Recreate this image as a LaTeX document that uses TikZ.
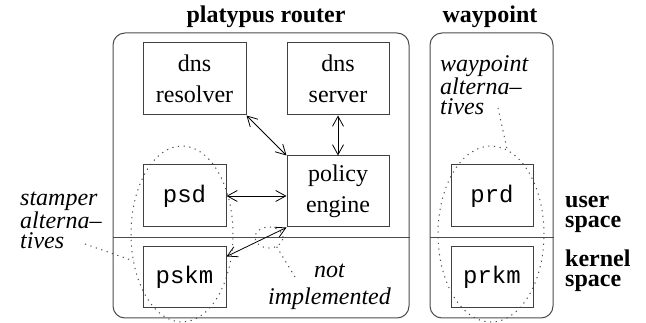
\documentclass[tikz,border=0pt]{standalone}
\usepackage{fontspec}
\setmainfont{Liberation Serif}
\setmonofont{Liberation Mono}
\usetikzlibrary{shapes.geometric,arrows.meta}

\begin{document}
\begin{tikzpicture}[x=1pt, y=-1pt, font=\fontsize{24}{31}\selectfont,
  >={Straight Barb[length=10pt,width=11pt]},
  box/.style={draw=black!75, line width=1pt, inner sep=0pt, align=center},
  tbox/.style={box, font=\fontsize{24}{31}\selectfont\ttfamily},
  group/.style={draw=black!70, line width=1pt, rounded corners=12pt, inner sep=0pt},
  title/.style={font=\fontsize{24}{31}\selectfont\bfseries, anchor=base},
  alt/.style={ellipse, draw=black!70, line width=1pt, dash pattern=on 1.2pt off 4.5pt, inner sep=0pt, outer sep=0pt},
  note/.style={font=\fontsize{24}{20}\selectfont\itshape, align=left, inner sep=0pt},
  side/.style={font=\fontsize{24}{20}\selectfont\bfseries, align=left, inner sep=0pt, anchor=west},
  link/.style={<->, line width=0.8pt},
  hint/.style={draw=black!70, line width=1pt, dash pattern=on 1.2pt off 4.5pt}]

\useasboundingbox (0,0) rectangle (646,323);

% the two machines
\node [group, minimum width=296, minimum height=285] (router) at (261,175.5) {};
\node [group, minimum width=123, minimum height=285] (wp) at (491.5,175.5) {};
\node [title] (rtitle) at (266,23) {platypus router};
\node [title] (wtitle) at (490,23) {waypoint};
\coordinate (split) at (0,238);
\draw [black!70, line width=1pt] (router.west |- split) -- (router.east |- split);
\draw [black!70, line width=1pt] (wp.west |- split) -- (wp.east |- split);

\node [box, minimum width=103, minimum height=72] (dnsres) at (194.5,79) {dns\\resolver};
\node [box, minimum width=102, minimum height=72] (dnssrv) at (338,79) {dns\\server};
\node [box, minimum width=102, minimum height=71] (policy) at (338,191.5) {policy\\engine};
\node [tbox, minimum width=83, minimum height=62] (psd) at (184.5,196) {psd};
\node [tbox, minimum width=83, minimum height=61] (pskm) at (184.5,277.5) {pskm};
\node [tbox, minimum width=82, minimum height=62] (prd) at (492,196) {prd};
\node [tbox, minimum width=82, minimum height=61] (prkm) at (492,277.5) {prkm};

\draw [link] (dnsres.south east) -- (policy.north west);
\draw [link] (dnssrv) -- (policy);
\draw [link] (psd.east) -- (psd.east -| policy.west);
\draw [link] (policy.south west) -- ([yshift=-10pt]pskm.north east);

% alternatives
\node [alt, minimum width=102, minimum height=176] (stampalt) at (182,234) {};
\node [alt, minimum width=106, minimum height=176] (wayalt) at (491,234) {};
\node [alt, minimum width=28, minimum height=21] (noimp) at (269,237.5) {};

\node [note, anchor=west] (stamplbl) at (20,220) {stamper\\alterna--\\tives};
\node [note, anchor=west] (waylbl) at (440,85) {waypoint\\alterna--\\tives};
\node [note, align=center, font=\fontsize{24}{27}\selectfont\itshape] (notlbl) at (329.5,287) {not\\implemented};
\coordinate (stampend) at (85,244);
\coordinate (wayend) at (498,108);
\coordinate (notend) at (295,277);
\draw [hint] (stampend) -- (stampalt.209);
\draw [hint] (wayend) -- (wayalt.79);
\draw [hint] (notend) -- (noimp.310);

\node [side] (user) at (565,214) {user\\space};
\node [side] (kernel) at (565,271) {kernel\\space};
\end{tikzpicture}
\end{document}
